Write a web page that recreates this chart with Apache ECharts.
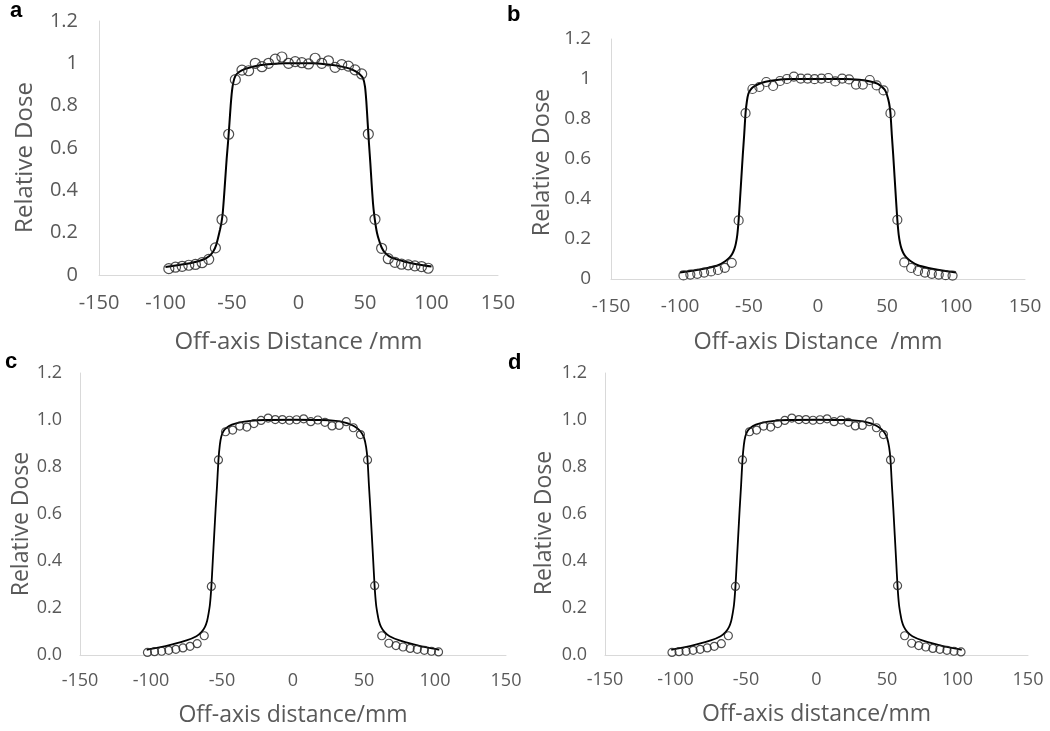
<!DOCTYPE html>
<html>
<head>
<meta charset="utf-8">
<script src="https://cdn.jsdelivr.net/npm/echarts@6/dist/echarts.min.js"></script>
<style>
html,body{margin:0;padding:0;background:#fff;}
#chart{width:1050px;height:731px;}
</style>
</head>
<body>
<div id="chart"></div>
<script>
// ---------- Data ----------
const panelLetters = ['a', 'b', 'c', 'd'];
const xTitles = ['Off-axis Distance /mm', 'Off-axis Distance  /mm', 'Off-axis distance/mm', 'Off-axis distance/mm'];
const yTitle = 'Relative Dose';
const xTicks = [-150, -100, -50, 0, 50, 100, 150];
const yTicks = [0, 0.2, 0.4, 0.6, 0.8, 1.0, 1.2];

// measured points (circles), panels a and b
const abPointX = [-97.5,-92.5,-87.5,-82.5,-77.5,-72.5,-67.5,-62.5,-57.5,-52.5,-47.5,-42.5,-37.5,-32.5,-27.5,-22.5,-17.5,-12.5,-7.5,-2.5,
                  2.5,7.5,12.5,17.5,22.5,27.5,32.5,37.5,42.5,47.5,52.5,57.5,62.5,67.5,72.5,77.5,82.5,87.5,92.5,97.5];
const aPointY = [0.030,0.037,0.041,0.046,0.050,0.058,0.074,0.128,0.262,0.665,0.923,0.968,0.965,1.000,0.984,1.000,1.020,1.030,1.000,1.008,
                 1.003,0.997,1.024,1.000,1.012,0.981,0.994,0.987,0.969,0.950,0.666,0.263,0.126,0.077,0.060,0.051,0.048,0.043,0.040,0.032];
const bPointY = [0.018,0.022,0.026,0.032,0.038,0.045,0.056,0.081,0.293,0.829,0.950,0.960,0.985,0.965,0.990,1.000,1.012,1.002,1.002,0.999,
                 1.002,1.005,0.988,1.002,0.998,0.972,0.972,0.995,0.968,0.943,0.829,0.296,0.083,0.055,0.040,0.032,0.026,0.022,0.019,0.017];

// measured points (circles), panels c and d
const cdPointX = [-102.5,-97.5,-92.5,-87.5,-82.5,-77.5,-72.5,-67.5,-62.5,-57.5,-52.5,-47.5,-42.5,-37.5,-32.5,-27.5,-22.5,-17.5,-12.5,-7.5,-2.5,
                  2.5,7.5,12.5,17.5,22.5,27.5,32.5,37.5,42.5,47.5,52.5,57.5,62.5,67.5,72.5,77.5,82.5,87.5,92.5,97.5,102.5];
const cPointY = [0.011,0.014,0.016,0.020,0.024,0.030,0.037,0.048,0.082,0.292,0.830,0.950,0.957,0.974,0.970,0.985,0.998,1.008,1.002,1.002,0.999,
                 1.001,1.005,0.993,1.000,0.990,0.975,0.977,0.993,0.967,0.938,0.830,0.295,0.082,0.050,0.040,0.034,0.028,0.024,0.020,0.016,0.013];
const dPointY = [0.011,0.014,0.016,0.020,0.024,0.030,0.037,0.048,0.082,0.292,0.830,0.950,0.957,0.974,0.970,0.985,0.998,1.008,1.002,1.002,0.999,
                 1.001,1.005,0.993,1.000,0.990,0.975,0.977,0.993,0.967,0.938,0.830,0.295,0.082,0.050,0.040,0.034,0.028,0.024,0.020,0.016,0.013];

// fitted / calculated curves (solid lines)
const aCurveX = [-100,-90,-80,-72,-67,-64,-62,-60.5,-59,-58,-57,-56,-55,-54,-53,-52,-51,-50,-49,-47.5,-45,-40,-30,-20,-10,0,
                 10,20,30,38,43,46,48.5,50,51,52,53,54,55,56,57,58,59,60.5,62.5,65,70,80,90,100];
const aCurveY = [0.038,0.047,0.058,0.072,0.090,0.112,0.140,0.175,0.215,0.245,0.290,0.370,0.460,0.550,0.625,0.710,0.800,0.870,0.910,0.940,0.958,0.974,0.990,0.997,1.000,1.000,
                 1.000,0.996,0.988,0.976,0.962,0.948,0.930,0.890,0.820,0.720,0.620,0.530,0.430,0.340,0.280,0.235,0.200,0.165,0.130,0.105,0.082,0.063,0.050,0.040];
const bCurveX = [-100,-90,-80,-72,-67,-64,-62,-60.5,-59.5,-58.5,-57.5,-56.5,-55.5,-54.5,-53.5,-52.5,-51.5,-50.5,-49,-47,-43,-38,-30,-20,0,
                 20,30,38,43,46,48.5,50,51.5,52.5,53.5,54.5,55.5,56.5,57.5,58.5,59.5,60.5,62,64,67,72,80,90,100];
const bCurveY = [0.033,0.042,0.055,0.070,0.090,0.108,0.128,0.152,0.178,0.220,0.295,0.400,0.510,0.620,0.720,0.830,0.890,0.925,0.945,0.960,0.975,0.986,0.995,1.000,1.000,
                 1.000,0.996,0.988,0.977,0.962,0.945,0.920,0.880,0.830,0.720,0.620,0.510,0.400,0.295,0.220,0.178,0.152,0.128,0.108,0.090,0.070,0.055,0.042,0.033];
const cCurveX = [-103,-95,-85,-75,-68,-64.5,-62,-60.5,-59.5,-58.5,-57.5,-56.5,-55.5,-54.5,-53.5,-52.5,-51.5,-50.5,-49,-47,-43,-38,-30,-20,0,
                 20,30,36,41,45,48,50,51.5,52.5,53.5,54.5,55.5,56.5,57.5,58.5,59.5,60.5,62,64.5,68,75,85,95,103];
const cCurveY = [0.022,0.031,0.045,0.062,0.080,0.097,0.120,0.145,0.175,0.215,0.290,0.400,0.510,0.620,0.720,0.830,0.895,0.930,0.952,0.966,0.980,0.989,0.996,1.000,1.001,
                 1.000,0.996,0.990,0.980,0.966,0.948,0.925,0.885,0.830,0.720,0.620,0.510,0.400,0.290,0.215,0.175,0.145,0.120,0.097,0.080,0.062,0.045,0.031,0.022];
const dCurveX = cCurveX.slice();
const dCurveY = cCurveY.slice();

// ---------- Layout / style ----------
const grids = [
  {left: 99,  top: 21,  width: 399, height: 254},
  {left: 611, top: 39,  width: 414, height: 240},
  {left: 80,  top: 373, width: 426, height: 282},
  {left: 605, top: 373, width: 423, height: 282}
];
const tickFont = [20, 19, 18, 18];
const titleFont = [24, 23.5, 23, 23];
const yLabelMargin = [21, 20, 18, 18];
const xLabelMargin = [18, 18, 17, 16];
const yNameGap = [62, 57, 47, 49];
const yNamePad = [[0, 19, 0, 0], [0, 7, 0, 0], [0, 20, 0, 0], [0, 18, 0, 0]];
const xNameGap = [55, 51, 49, 48];
const symSize = [10, 9, 8, 8];
const lineW = [2, 2, 1.8, 1.8];
const letterPos = [[10, 12], [507, 16], [5, 363], [508, 364]];

const FONT = '"Open Sans", "Liberation Sans", sans-serif';
const GREY = '#595959';

const pointsX = [abPointX, abPointX, cdPointX, cdPointX];
const pointsY = [aPointY, bPointY, cPointY, dPointY];
const curvesX = [aCurveX, bCurveX, cCurveX, dCurveX];
const curvesY = [aCurveY, bCurveY, cCurveY, dCurveY];

const xAxes = [], yAxes = [], series = [];
for (let i = 0; i < 4; i++) {
  xAxes.push({
    gridIndex: i, type: 'value', min: xTicks[0], max: xTicks[xTicks.length - 1], interval: 50,
    name: xTitles[i], nameLocation: 'middle', nameGap: xNameGap[i],
    nameTextStyle: {fontFamily: FONT, fontSize: titleFont[i], color: GREY},
    axisLine: {show: true, onZero: false, lineStyle: {color: '#d9d9d9', width: 1}},
    axisTick: {show: false}, splitLine: {show: false},
    axisLabel: {fontFamily: FONT, fontSize: tickFont[i], color: GREY, margin: xLabelMargin[i], showMinLabel: true, showMaxLabel: true}
  });
  const oneDec = i >= 2;
  yAxes.push({
    gridIndex: i, type: 'value', min: yTicks[0], max: yTicks[yTicks.length - 1], interval: 0.2,
    name: yTitle, nameLocation: 'middle', nameGap: yNameGap[i], nameRotate: 90,
    nameTextStyle: {fontFamily: FONT, fontSize: titleFont[i], color: GREY, padding: yNamePad[i]},
    axisLine: {show: true, onZero: false, lineStyle: {color: '#d9d9d9', width: 1}},
    axisTick: {show: false}, splitLine: {show: false},
    axisLabel: {fontFamily: FONT, fontSize: tickFont[i], color: GREY, margin: yLabelMargin[i],
      formatter: v => oneDec ? v.toFixed(1) : String(Math.round(v * 10) / 10)}
  });
  series.push({
    type: 'line', xAxisIndex: i, yAxisIndex: i, showSymbol: false, smooth: 0.2,
    data: curvesX[i].map((x, k) => [x, curvesY[i][k]]),
    lineStyle: {color: '#000', width: lineW[i]}, z: 2, silent: true
  });
  series.push({
    type: 'scatter', xAxisIndex: i, yAxisIndex: i, symbol: 'circle', symbolSize: symSize[i],
    data: pointsX[i].map((x, k) => [x, pointsY[i][k]]),
    itemStyle: {color: 'rgba(255,255,255,0)', borderColor: '#222', borderWidth: 1.2}, z: 3
  });
}

const graphics = panelLetters.map((t, i) => ({
  type: 'text', left: letterPos[i][0], top: letterPos[i][1] - 12,
  style: {text: t, font: 'bold 22px "Liberation Sans", Arial, sans-serif', fill: '#000'}
}));

const chart = echarts.init(document.getElementById('chart'), null, {renderer: 'canvas'});
chart.setOption({
  animation: false,
  backgroundColor: '#fff',
  grid: grids,
  xAxis: xAxes,
  yAxis: yAxes,
  series: series,
  graphic: graphics
});
</script>
</body>
</html>
